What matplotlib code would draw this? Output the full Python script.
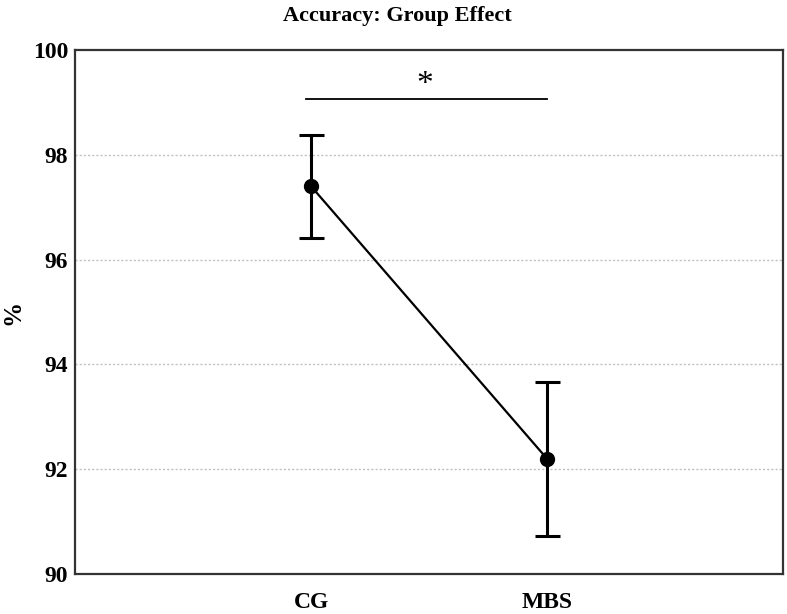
import numpy as np
import matplotlib.pyplot as plt

plt.rcParams['font.family'] = ['Liberation Serif', 'DejaVu Serif']

# data
groups = ["CG", "MBS"]
means = [97.4, 92.2]
errs = [0.98, 1.47]
yticks = [90, 92, 94, 96, 98, 100]

fig = plt.figure(figsize=(7.87, 6.14), dpi=100)
ax = fig.add_axes([0.0953, 0.0651, 0.8997, 0.8535])

x = np.arange(1, len(groups) + 1)
ax.errorbar(x, means, yerr=errs, color="black", lw=1.6, marker="o",
            markersize=10, ecolor="black", elinewidth=2.2, capsize=9,
            capthick=2.2, zorder=3)

# significance bar
ax.plot([0.98, 2.0], [99.07, 99.07], color="black", lw=1.3)
ax.text(1.48, 99.05, "*", ha="center", va="bottom", fontsize=24)

ax.set_xlim(0, 3)
ax.set_ylim(90, 100)
ax.set_xticks(x)
ax.set_xticklabels(groups, fontsize=17, fontweight="bold")
ax.set_yticks(yticks)
ax.set_yticklabels([str(t) for t in yticks], fontsize=17, fontweight="bold")
ax.tick_params(length=0, pad=5)
ax.tick_params(axis="x", pad=13)

for t in yticks[1:-1]:
    ax.axhline(t, color="#c0c0c0", lw=1, ls=(0, (1.5, 1.5)), zorder=1)

for s in ax.spines.values():
    s.set_color("#333333")
    s.set_linewidth(1.6)

ax.set_ylabel("%", fontsize=18, fontweight="bold", labelpad=6)
fig.suptitle("Accuracy: Group Effect", x=0.505, y=0.99, fontsize=16,
             fontweight="bold")

plt.savefig("out.png", dpi=100)
